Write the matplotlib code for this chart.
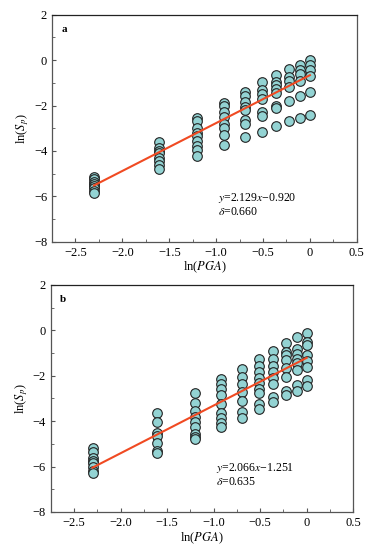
import numpy as np
import matplotlib
matplotlib.use("Agg")
import matplotlib.pyplot as plt
from matplotlib.ticker import MultipleLocator

plt.rcParams["font.family"] = ["Liberation Serif", "DejaVu Serif"]
plt.rcParams["mathtext.fontset"] = "stix"

# ln(PGA) levels, PGA = 0.1g ... 1.0g
pga = [0.1, 0.2, 0.3, 0.4, 0.5, 0.6, 0.7, 0.8, 0.9, 1.0]

# ln(Sp) values, one list per PGA level
sp_a = [
    [-5.15, -5.25, -5.35, -5.45, -5.55, -5.65, -5.75, -5.85],
    [-3.6, -3.85, -4.0, -4.1, -4.3, -4.45, -4.6, -4.8],
    [-2.55, -2.7, -3.0, -3.2, -3.35, -3.55, -3.8, -3.95, -4.2],
    [-1.9, -2.0, -2.3, -2.5, -2.8, -3.0, -3.3, -3.75],
    [-1.4, -1.6, -1.85, -2.05, -2.2, -2.65, -2.8, -3.4],
    [-0.97, -1.3, -1.5, -1.7, -2.3, -2.45, -3.15],
    [-0.65, -0.95, -1.1, -1.25, -1.45, -2.0, -2.1, -2.9],
    [-0.4, -0.75, -0.9, -1.2, -1.8, -2.7],
    [-0.2, -0.45, -0.6, -0.9, -1.6, -2.55],
    [0.0, -0.2, -0.45, -0.7, -1.4, -2.4],
]
sp_b = [
    [-5.2, -5.35, -5.6, -5.75, -5.85, -6.0, -6.2, -6.3],
    [-3.65, -4.05, -4.5, -4.65, -4.95, -5.3, -5.4],
    [-2.75, -3.2, -3.55, -3.8, -4.05, -4.25, -4.55, -4.7, -4.8],
    [-2.15, -2.35, -2.6, -2.85, -3.25, -3.65, -3.85, -4.1, -4.25],
    [-1.7, -2.05, -2.35, -2.7, -3.1, -3.6, -3.85],
    [-1.25, -1.55, -1.85, -2.1, -2.3, -2.6, -2.75, -3.25, -3.45],
    [-0.9, -1.25, -1.55, -1.85, -2.1, -2.35, -2.95, -3.15],
    [-0.55, -0.95, -1.1, -1.3, -1.65, -2.05, -2.65, -2.85],
    [-0.3, -0.8, -1.05, -1.25, -1.45, -1.75, -2.4, -2.65],
    [-0.1, -0.5, -0.65, -1.1, -1.35, -1.6, -2.2, -2.45],
]

# fitted line as drawn (slope, intercept) and the printed annotation
fit_a = (2.11, -0.66)
fit_b = (2.10, -1.21)
labels = ["a", "b"]
eq_a = ("2.129", "0.920", "0.660")
eq_b = ("2.066", "1.251", "0.635")
xtick_labels = ["\u22122.5", "\u22122.0", "\u22121.5", "\u22121.0", "\u22120.5", "0", "0.5"]


def panel(ax, sp, fit, tag, eq):
    lnx = np.log(pga)
    for x, ys in zip(lnx, sp):
        ax.scatter([x] * len(ys), ys, s=48, c="#93d3d3", edgecolors="#222222",
                   linewidths=0.8, zorder=3)
    xs = np.array([lnx[0], lnx[-1]])
    ax.plot(xs, fit[0] * xs + fit[1], color="#f04a22", lw=1.5, zorder=4)

    ax.set_xlim(-2.75, 0.5)
    ax.set_ylim(-8, 2)
    ax.set_xticks(np.arange(-2.5, 0.51, 0.5))
    ax.set_xticklabels(xtick_labels)
    ax.xaxis.set_minor_locator(MultipleLocator(0.25))
    ax.yaxis.set_major_locator(MultipleLocator(2))
    ax.yaxis.set_minor_locator(MultipleLocator(1))
    ax.tick_params(which="both", direction="in", labelsize=9, color="#555555")
    ax.tick_params(which="major", length=3)
    ax.tick_params(which="minor", length=2)
    for s in ax.spines.values():
        s.set_color("#555555")
        s.set_linewidth(0.9)
    ax.spines["top"].set_color("#222222")
    ax.set_xlabel(r"ln($\mathit{PGA}$)", fontsize=9, labelpad=1)
    ax.set_ylabel(r"ln($\mathit{S}_{\mathit{p}}$)", fontsize=9, labelpad=2)
    ax.text(0.03, 0.955, tag, transform=ax.transAxes, fontsize=8,
            fontweight="bold", va="top", ha="left")
    ax.text(-0.98, -6.05, r"$\mathit{y}$=" + eq[0] + r"$\mathit{x}$" + "\u2212" + eq[1],
            fontsize=8.5, va="center", ha="left")
    ax.text(-0.98, -6.7, r"$\mathit{\delta}$=" + eq[2], fontsize=8.5,
            va="center", ha="left")


fig = plt.figure(figsize=(3.69, 5.47), dpi=100)
ax1 = fig.add_axes([0.141, 0.558, 0.826, 0.415])
ax2 = fig.add_axes([0.138, 0.064, 0.819, 0.415])
panel(ax1, sp_a, fit_a, labels[0], eq_a)
panel(ax2, sp_b, fit_b, labels[1], eq_b)

fig.savefig("out.png", dpi=100)
